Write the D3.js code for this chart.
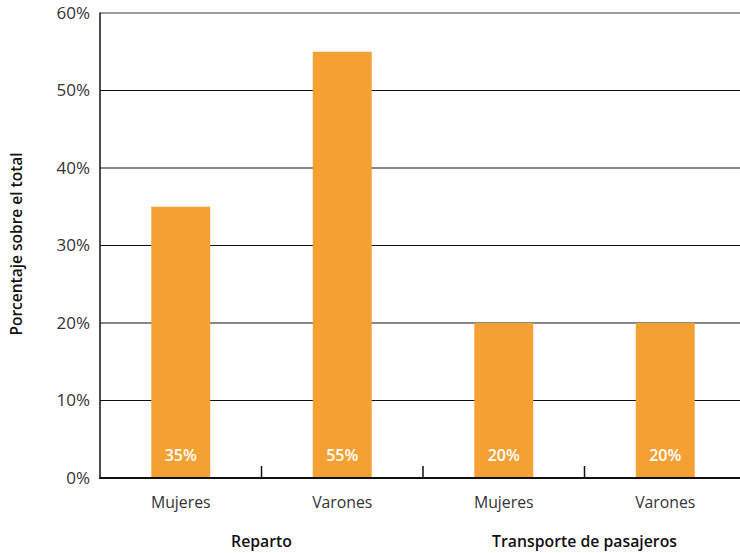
<!DOCTYPE html>
<html><head><meta charset="utf-8">
<script src="https://cdn.jsdelivr.net/npm/d3@7"></script>
<style>body{margin:0;background:#fff}svg{display:block}text{font-family:"Open Sans",Lato,sans-serif}</style>
</head><body><svg id="c" width="740" height="553"></svg>
<script>
const categories = ["Mujeres","Varones","Mujeres","Varones"];
const groups = ["Reparto","Transporte de pasajeros"];
const values = [35,55,20,20];
const yTicks = [0,10,20,30,40,50,60];
const yLabel = "Porcentaje sobre el total";

(function(){
const svg = d3.select("#c");
const mL = 100, mR = 746, mT = 13, mB = 478;
const x = d3.scaleBand().domain(d3.range(values.length)).range([mL,mR]).paddingInner(0.635).paddingOuter(0.3175);
const xb = d3.scaleBand().domain(d3.range(values.length)).range([mL,mR]);
const y = d3.scaleLinear().domain([0,60]).range([mB,mT]);

svg.append("g").selectAll("line").data(yTicks.filter(d=>d>0)).join("line")
  .attr("x1",mL).attr("x2",740).attr("y1",d=>y(d)).attr("y2",d=>y(d))
  .attr("stroke",d=>d===60?"#7a7a7a":"#111").attr("stroke-width",d=>d===60?1.5:1.2);

svg.append("g").selectAll("text").data(yTicks).join("text")
  .attr("x",90).attr("y",d=>y(d)).attr("dy","0.35em").attr("text-anchor","end")
  .attr("font-size",17).attr("fill","#333").text(d=>d+"%");

svg.append("g").selectAll("rect").data(values).join("rect")
  .attr("x",(d,i)=>x(i)).attr("width",x.bandwidth())
  .attr("y",d=>y(d)).attr("height",d=>y(0)-y(d)).attr("fill","#F4A033");

svg.append("g").selectAll("text").data(values).join("text")
  .attr("x",(d,i)=>x(i)+x.bandwidth()/2).attr("y",y(0)-23).attr("dy","0.35em")
  .attr("text-anchor","middle").attr("font-size",16).attr("font-weight",600).attr("fill","#fff")
  .text(d=>d+"%");

svg.append("line").attr("x1",mL).attr("x2",mL).attr("y1",mT-0.5).attr("y2",mB+1).attr("stroke","#111").attr("stroke-width",1.5);
svg.append("line").attr("x1",mL-0.5).attr("x2",740).attr("y1",mB).attr("y2",mB).attr("stroke","#111").attr("stroke-width",2);

svg.append("g").selectAll("line").data([1,2,3]).join("line")
  .attr("x1",d=>xb(d)).attr("x2",d=>xb(d)).attr("y1",mB).attr("y2",mB-12)
  .attr("stroke","#111").attr("stroke-width",1.5);

svg.append("g").selectAll("text").data(categories).join("text")
  .attr("x",(d,i)=>xb(i)+xb.bandwidth()/2).attr("y",502).attr("dy","0.35em")
  .attr("text-anchor","middle").attr("font-size",15.8).attr("fill","#333").text(d=>d);

svg.append("g").selectAll("text").data(groups).join("text")
  .attr("x",(d,i)=>xb(i*2+1)).attr("y",541).attr("dy","0.35em")
  .attr("text-anchor","middle").attr("font-size",15.8).attr("font-weight",600).attr("fill","#111").text(d=>d);

svg.append("text").attr("transform","translate(17,244) rotate(-90)").attr("dy","0.35em")
  .attr("text-anchor","middle").attr("font-size",15.5).attr("font-weight",600).attr("fill","#111").text(yLabel);
})();
</script></body></html>
